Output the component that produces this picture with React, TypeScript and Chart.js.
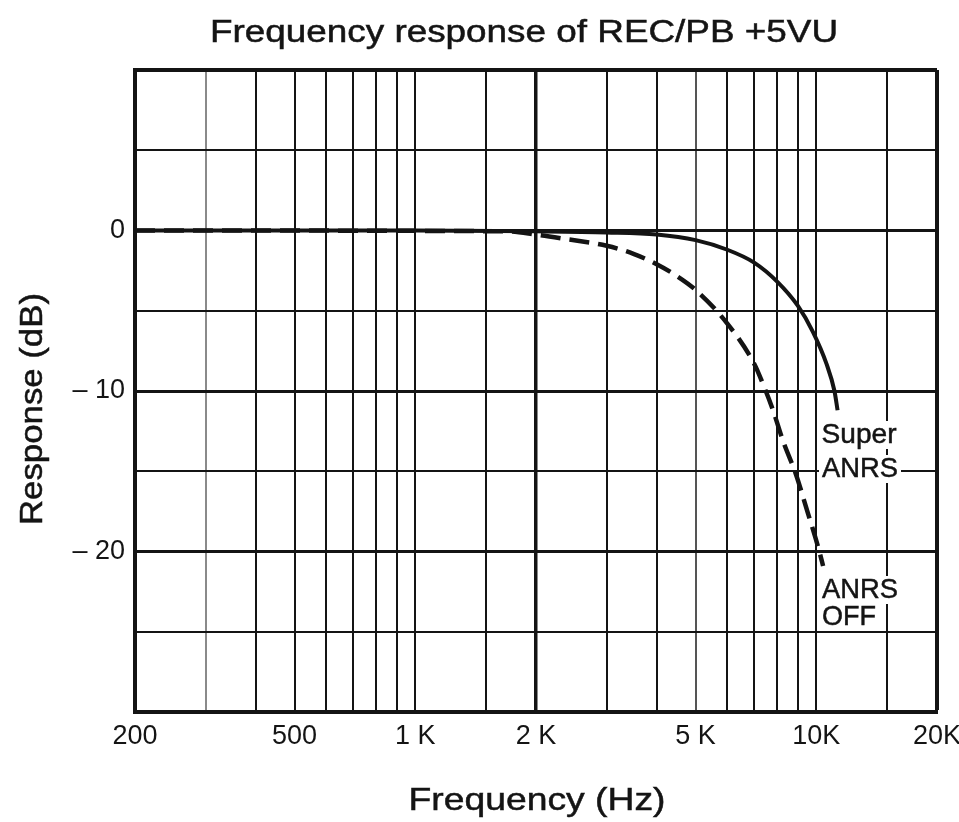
import React, { useEffect, useRef } from 'react';
import { Chart, registerables } from 'chart.js';

Chart.register(...registerables);

// ---- data ----
const superFreq = [200, 1000, 2000, 3000, 4000, 5000, 6000, 7000, 8000, 9000, 9800, 10600, 11100, 11300];
const superDb = [0, 0, -0.05, -0.12, -0.25, -0.6, -1.2, -2.0, -3.2, -4.7, -6.3, -8.3, -10, -11.2];

const offFreq = [200, 1700, 2000, 2400, 3000, 3500, 4000, 4500, 5000, 6000, 7000, 7400, 7800, 8260, 8900, 9500, 10100, 10400];
const offDb = [0, -0.05, -0.25, -0.55, -0.95, -1.45, -2.1, -2.85, -3.7, -5.8, -8.3, -9.7, -11.2, -13.1, -15.2, -17.5, -19.7, -20.9];

const xGridValues = [200, 300, 400, 500, 600, 700, 800, 900, 1000, 1500, 2000, 3000, 4000, 5000, 6000, 7000, 8000, 9000, 10000, 15000, 20000];
const xLabelValues = [200, 500, 1000, 2000, 5000, 10000, 20000];
const xLabelTexts = ['200', '500', '1 K', '2 K', '5 K', '10K', '20K'];
const yLabelValues = [0, -10, -20];
const yLabelTexts = ['0', '– 10', '– 20'];

const titleText = 'Frequency response of REC/PB +5VU';
const xTitleText = 'Frequency (Hz)';
const yTitleText = 'Response (dB)';
const superLabelLines = ['Super', 'ANRS'];
const offLabelLines = ['ANRS', 'OFF'];

const FONT = '"Liberation Sans", Arial, sans-serif';
const INK = '#141414';

function fitText(ctx: CanvasRenderingContext2D, text: string, cx: number, cy: number, width: number, size: number, bg = false) {
  ctx.save();
  ctx.font = `${size}px ${FONT}`;
  const w = ctx.measureText(text).width;
  const sx = width / w;
  ctx.textAlign = 'left';
  ctx.textBaseline = 'middle';
  if (bg) {
    ctx.fillStyle = '#ffffff';
    ctx.fillRect(cx - width / 2 - 3, cy - size * 0.5, width + 6, size);
  }
  ctx.translate(cx - width / 2, cy);
  ctx.scale(sx, 1);
  ctx.fillStyle = INK;
  ctx.strokeStyle = INK;
  ctx.lineWidth = 0.5;
  ctx.fillText(text, 0, 0);
  ctx.strokeText(text, 0, 0);
  ctx.restore();
}

const textPlugin = {
  id: 'texts',
  afterDraw(chart: any) {
    const ctx = chart.ctx as CanvasRenderingContext2D;
    fitText(ctx, titleText, 524, 33, 628, 31);
    fitText(ctx, xTitleText, 537, 801, 257, 32);
    ctx.save();
    ctx.translate(33, 409);
    ctx.rotate(-Math.PI / 2);
    fitText(ctx, yTitleText, 0, 0, 232, 31);
    ctx.restore();
    // curve labels
    fitText(ctx, superLabelLines[0], 859, 435, 75, 28, true);
    fitText(ctx, superLabelLines[1], 860, 469, 76, 28, true);
    fitText(ctx, offLabelLines[0], 860, 590, 76, 28, true);
    fitText(ctx, offLabelLines[1], 849, 617, 54, 28, true);
  },
};

export default function App() {
  const ref = useRef<HTMLCanvasElement | null>(null);

  useEffect(() => {
    document.body.style.margin = '0';
    const canvas = ref.current!;
    const chart = new Chart(canvas, {
      type: 'line',
      data: {
        datasets: [
          {
            label: 'Super ANRS',
            data: superFreq.map((f, i) => ({ x: f, y: superDb[i] })),
            borderColor: INK,
            borderWidth: 4,
            pointRadius: 0,
            cubicInterpolationMode: 'monotone',
            fill: false,
          },
          {
            label: 'ANRS OFF',
            data: offFreq.map((f, i) => ({ x: f, y: offDb[i] })),
            borderColor: INK,
            borderWidth: 4.5,
            borderDash: [20, 9],
            pointRadius: 0,
            cubicInterpolationMode: 'monotone',
            fill: false,
          },
        ],
      },
      options: {
        responsive: false,
        animation: false,
        devicePixelRatio: 1,
        layout: { padding: { top: 70, right: 22, left: 0, bottom: 0 } },
        plugins: {
          legend: { display: false },
          title: { display: false },
          tooltip: { enabled: false },
        },
        scales: {
          x: {
            type: 'logarithmic',
            min: 200,
            max: 20000,
            afterBuildTicks: (scale: any) => {
              scale.ticks = xGridValues.map((v) => ({ value: v }));
            },
            afterFit: (scale: any) => {
              scale.height = 110;
              scale.paddingLeft = 0;
              scale.paddingRight = 0;
            },
            ticks: {
              autoSkip: false,
              maxRotation: 0,
              minRotation: 0,
              padding: 8,
              color: INK,
              font: { family: FONT, size: 27 },
              callback: (v: any) => {
                const i = xLabelValues.indexOf(Number(v));
                return i >= 0 ? xLabelTexts[i] : '';
              },
            },
            grid: {
              drawTicks: false,
              color: (c: any) => {
                const v = c.tick?.value;
                if (v === 300) return '#8a8a8a';
                if (v === 5000) return '#555555';
                return INK;
              },
              lineWidth: (c: any) => {
                const v = c.tick?.value;
                if (v === 2000) return 3.5;
                if (v === 20000) return 4;
                return 2;
              },
            },
            border: { display: true, color: INK, width: 4 },
          },
          y: {
            type: 'linear',
            min: -30,
            max: 10,
            afterFit: (scale: any) => {
              scale.width = 135;
              scale.paddingTop = 0;
              scale.paddingBottom = 0;
            },
            ticks: {
              stepSize: 5,
              padding: 10,
              color: INK,
              font: { family: FONT, size: 27 },
              callback: (v: any) => {
                const i = yLabelValues.indexOf(Number(v));
                return i >= 0 ? yLabelTexts[i] : '';
              },
            },
            grid: {
              drawTicks: false,
              color: INK,
              lineWidth: (c: any) => {
                const v = c.tick?.value;
                if (v === 10) return 4;
                if (v % 10 === 0) return 3;
                return 2;
              },
            },
            border: { display: true, color: INK, width: 4 },
          },
        },
      },
      plugins: [textPlugin],
    } as any);
    return () => chart.destroy();
  }, []);

  return <canvas ref={ref} width={959} height={822} style={{ display: 'block', width: 959, height: 822 }} />;
}
